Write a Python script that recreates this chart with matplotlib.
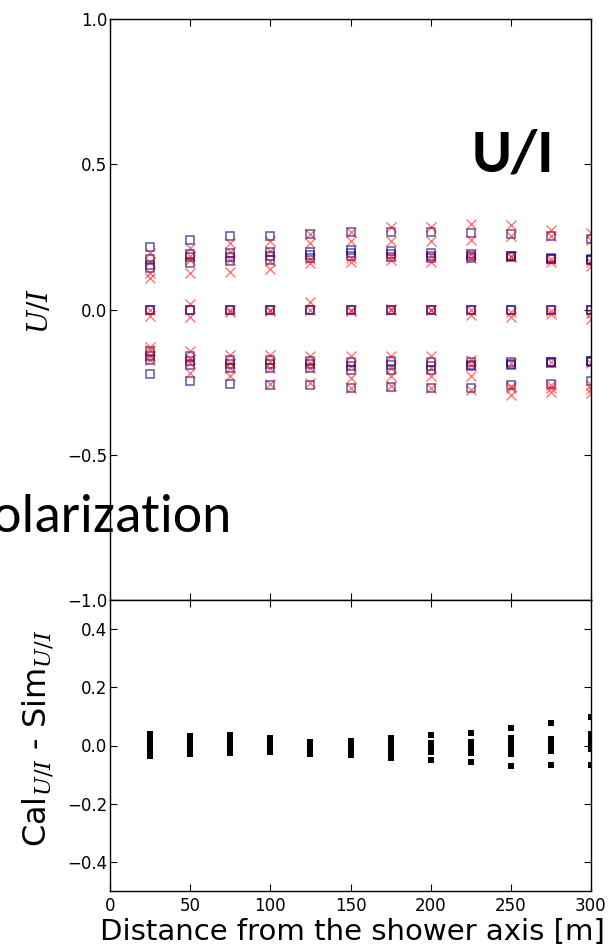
import numpy as np
import matplotlib
matplotlib.use("Agg")
import matplotlib.pyplot as plt

plt.rcParams["font.family"] = ["DejaVu Sans"]
plt.rcParams["mathtext.fontset"] = "dejavuserif"

# Antenna distance from the shower axis [m]
distance = [25, 50, 75, 100, 125, 150, 175, 200, 225, 250, 275, 300]

# Simulated U/I (squares), positive branch
upper_sim = [
    [0.216, 0.175, 0.155, 0.143],
    [0.241, 0.192, 0.180, 0.161],
    [0.253, 0.195, 0.180, 0.167],
    [0.255, 0.197, 0.185, 0.170],
    [0.259, 0.197, 0.188, 0.178],
    [0.268, 0.205, 0.195, 0.184],
    [0.268, 0.201, 0.190, 0.182],
    [0.268, 0.195, 0.186, 0.178],
    [0.264, 0.190, 0.185, 0.178],
    [0.259, 0.186, 0.184, 0.182],
    [0.253, 0.178, 0.176, 0.174],
    [0.245, 0.174, 0.172, 0.170],
]
# Calculated U/I (crosses), positive branch
upper_cal = [
    [0.195, 0.165, 0.126, 0.110],
    [0.213, 0.184, 0.170, 0.126],
    [0.230, 0.200, 0.172, 0.129],
    [0.236, 0.201, 0.167, 0.140],
    [0.259, 0.230, 0.175, 0.161],
    [0.268, 0.236, 0.178, 0.163],
    [0.285, 0.236, 0.184, 0.172],
    [0.285, 0.236, 0.184, 0.163],
    [0.295, 0.240, 0.190, 0.178],
    [0.290, 0.253, 0.184, 0.182],
    [0.276, 0.253, 0.175, 0.163],
    [0.265, 0.241, 0.163, 0.150],
]
# Antennas on the symmetry line
middle_sim = [[0.0, 0.0] for _ in distance]
middle_cal = [
    [0.000, -0.022],
    [0.020, -0.024],
    [0.000, -0.008],
    [0.000, -0.004],
    [0.025, 0.000],
    [0.000, -0.003],
    [0.003, 0.000],
    [0.000, -0.002],
    [0.000, -0.018],
    [-0.008, -0.024],
    [-0.004, -0.015],
    [-0.010, -0.032],
]
# Negative branch
lower_sim = [
    [-0.144, -0.161, -0.175, -0.223],
    [-0.161, -0.176, -0.192, -0.247],
    [-0.172, -0.187, -0.200, -0.256],
    [-0.172, -0.186, -0.200, -0.259],
    [-0.176, -0.187, -0.200, -0.261],
    [-0.182, -0.194, -0.207, -0.270],
    [-0.178, -0.192, -0.207, -0.268],
    [-0.181, -0.195, -0.209, -0.270],
    [-0.181, -0.190, -0.195, -0.270],
    [-0.182, -0.186, -0.190, -0.261],
    [-0.179, -0.181, -0.183, -0.256],
    [-0.176, -0.178, -0.180, -0.247],
]
lower_cal = [
    [-0.130, -0.140, -0.160, -0.172],
    [-0.144, -0.170, -0.184, -0.218],
    [-0.155, -0.185, -0.200, -0.230],
    [-0.155, -0.180, -0.200, -0.256],
    [-0.160, -0.185, -0.200, -0.253],
    [-0.160, -0.195, -0.236, -0.270],
    [-0.161, -0.200, -0.230, -0.262],
    [-0.161, -0.200, -0.230, -0.270],
    [-0.172, -0.190, -0.230, -0.276],
    [-0.184, -0.262, -0.270, -0.293],
    [-0.181, -0.259, -0.270, -0.282],
    [-0.185, -0.260, -0.275, -0.287],
]
# Cal - Sim residuals per distance
residual = [
    [0.040, 0.030, 0.020, 0.010, 0.000, -0.010, -0.020, -0.030, -0.036],
    [0.033, 0.023, 0.013, 0.003, -0.007, -0.017, -0.028],
    [0.035, 0.025, 0.015, 0.005, -0.005, -0.015, -0.026],
    [0.026, 0.016, 0.006, -0.004, -0.014, -0.021],
    [0.012, 0.002, -0.008, -0.018, -0.028],
    [0.016, 0.006, -0.004, -0.014, -0.024, -0.033],
    [0.026, 0.004, -0.006, -0.014, -0.022, -0.043],
    [0.035, 0.009, -0.001, -0.011, -0.021, -0.050],
    [0.044, 0.012, 0.002, -0.008, -0.018, -0.027, -0.058],
    [0.060, 0.025, 0.015, 0.005, -0.005, -0.015, -0.028, -0.071],
    [0.079, 0.021, 0.011, 0.001, -0.009, -0.019, -0.068],
    [0.098, 0.039, 0.029, 0.019, 0.009, -0.001, -0.012, -0.066],
]

top_yticks = [-1.0, -0.5, 0.0, 0.5, 1.0]
bottom_yticks = [-0.4, -0.2, 0.0, 0.2, 0.4]
xticks = [0, 50, 100, 150, 200, 250, 300]


def flatten(groups):
    xs = np.concatenate([[d] * len(g) for d, g in zip(distance, groups)])
    ys = np.concatenate([np.asarray(g, float) for g in groups])
    return xs, ys


W, H = 615, 951
fig = plt.figure(figsize=(W / 100, H / 100), dpi=100)


def box(left, top, right, bottom):
    return [left / W, 1 - bottom / H, (right - left) / W, (bottom - top) / H]


ax = fig.add_axes(box(110, 19.3, 591, 600))
axd = fig.add_axes(box(110, 600, 591, 891), sharex=ax)

for sim in (upper_sim, middle_sim, lower_sim):
    xs, ys = flatten(sim)
    ax.plot(xs, ys, ls="none", marker="s", ms=5.6, mew=1.1, mfc="none",
            mec="navy", alpha=0.65)
for cal in (upper_cal, middle_cal, lower_cal):
    xs, ys = flatten(cal)
    ax.plot(xs, ys, ls="none", marker="x", ms=6.5, mew=1.0, color="red", alpha=0.55)

xs, ys = flatten(residual)
axd.plot(xs, ys, ls="none", marker="s", ms=4.0, mew=0, color="black")

ax.set_xlim(0, 300)
ax.set_ylim(-1.0, 1.0)
ax.set_yticks(top_yticks)
axd.set_ylim(-0.5, 0.5)
axd.set_yticks(bottom_yticks)
axd.set_xticks(xticks)

for a in (ax, axd):
    a.tick_params(direction="in", top=True, right=True, length=5, width=0.8,
                  labelsize=12, pad=2)
    for s in a.spines.values():
        s.set_linewidth(1.0)
ax.tick_params(labelbottom=False)
axd.tick_params(axis="x", pad=4)

# Axis titles
fig.text(40 / W, 1 - 311 / H, r"$U/I$", rotation=90, ha="center", va="center",
         fontsize=20)
fig.text(38 / W, 1 - 738 / H, r"Cal$_{U/I}$ - Sim$_{U/I}$", rotation=90,
         ha="center", va="center", fontsize=23)
fig.text(352 / W, 1 - 940 / H, "Distance from the shower axis [m]",
         ha="center", va="baseline", fontsize=21)

# Slide annotations
fig.text(554 / W, 1 - 172 / H, "U/I", ha="right", va="baseline",
         family="Carlito", weight="bold", fontsize=44)
fig.text(231 / W, 1 - 532 / H, "polarization", ha="right", va="baseline",
         family="Carlito", fontsize=40)

fig.savefig("out.png", dpi=100)
